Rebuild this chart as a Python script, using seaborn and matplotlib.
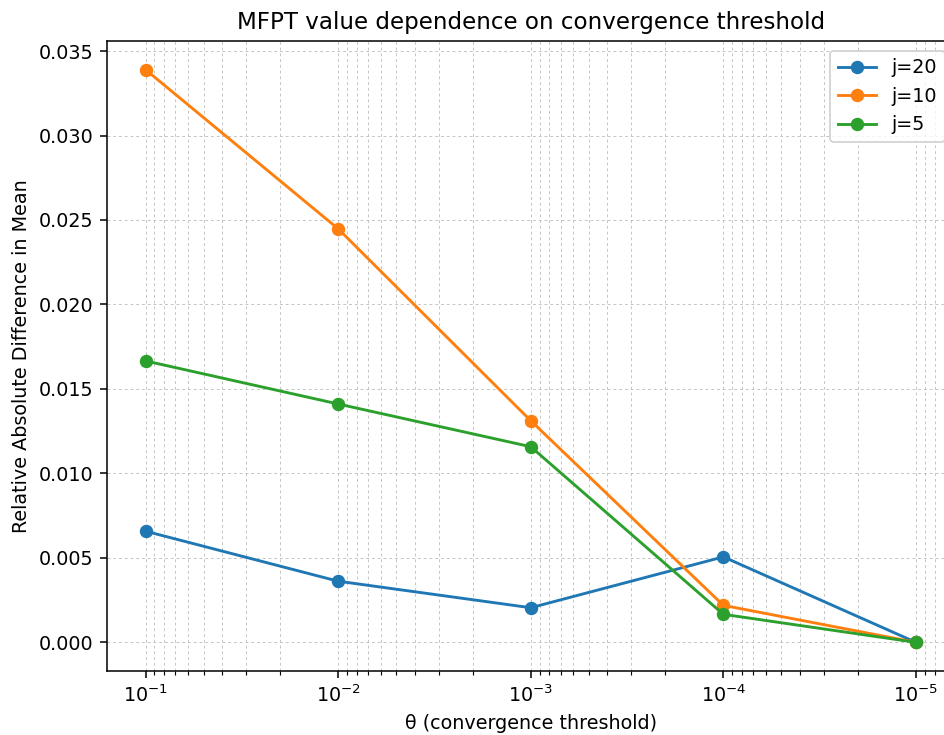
import numpy as np
import pandas as pd
import matplotlib
matplotlib.use("Agg")
import matplotlib.pyplot as plt
import seaborn as sns

theta = [1e-1, 1e-2, 1e-3, 1e-4, 1e-5]
series_names = ["j=20", "j=10", "j=5"]
j20 = [0.00658, 0.00362, 0.00205, 0.00506, 0.0]
j10 = [0.0339, 0.02448, 0.01312, 0.00219, 0.0]
j5 = [0.01666, 0.01411, 0.01158, 0.00166, 0.0]

df = pd.DataFrame({
    "theta": theta * 3,
    "value": j20 + j10 + j5,
    "series": [s for s in series_names for _ in theta],
})

DPI = 138
fig = plt.figure(figsize=(944 / DPI, 735 / DPI), dpi=DPI)
ax = fig.add_axes([107 / 944, 64 / 735, (954.5 - 107) / 944, (694 - 64) / 735])

palette = ["#1f77b4", "#ff7f0e", "#2ca02c"]
sns.lineplot(data=df, x="theta", y="value", hue="series", hue_order=series_names,
             palette=palette, marker="o", markersize=7, markeredgewidth=0,
             ax=ax, legend=True)
ax.set_xscale("log")
ax.invert_xaxis()
for ln in ax.lines:
    ln.set_markeredgecolor(ln.get_color())

ax.grid(True, which="both", linestyle=(0, (3, 3)), color="#c4c4c4", linewidth=0.5)
ax.set_title("MFPT value dependence on convergence threshold", fontsize=12)
ax.set_xlabel("θ (convergence threshold)")
ax.set_ylabel("Relative Absolute Difference in Mean")
sns.move_legend(ax, "upper right", title=None)
leg = ax.get_legend()
for h in leg.legend_handles:
    h.set_markeredgewidth(0)
    h.set_markersize(7)

fig.savefig("out.png", dpi=DPI)
